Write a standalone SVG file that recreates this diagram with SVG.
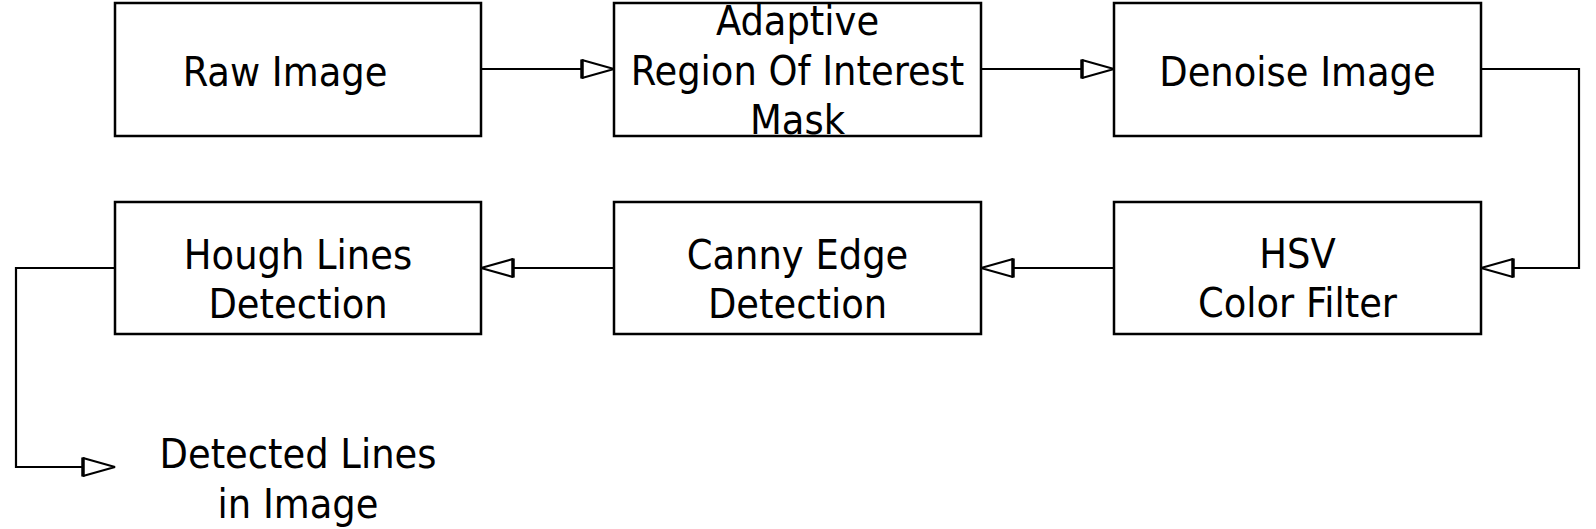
<svg xmlns="http://www.w3.org/2000/svg" width="1596" height="529" viewBox="0 0 1596 529">
<style>
.box{fill:#fff;stroke:#000;stroke-width:2.5}
.lbl{font-family:"DejaVu Sans Condensed","DejaVu Sans",sans-serif;font-stretch:condensed;font-size:41px;fill:#000;text-anchor:middle}
.con{fill:none;stroke:#000;stroke-width:2.2;marker-end:url(#ah)}
</style>
<defs>
<marker id="ah" viewBox="0 0 36 22" refX="34" refY="11" markerWidth="36" markerHeight="22" markerUnits="userSpaceOnUse" orient="auto">
<path d="M2,2 L34,11 L2,20 Z" fill="#fff" stroke="#000" stroke-width="2" stroke-linejoin="bevel"/>
<path d="M2,1.5 V20.5" stroke="#000" stroke-width="3.5"/>
</marker>
</defs>
<rect width="1596" height="529" fill="#fff"/>
<g id="connectors">
<path class="con" d="M481,69 H614"/>
<path class="con" d="M981,69 H1114"/>
<path class="con" d="M1481,69 H1579 V268 H1481"/>
<path class="con" d="M1114,268 H981"/>
<path class="con" d="M614,268 H481"/>
<path class="con" d="M115,268 H16 V467 H115"/>
</g>
<g id="raw-image">
<rect class="box" x="115" y="3" width="366" height="133"/>
<text class="lbl" x="285" y="86">Raw Image</text>
</g>
<g id="adaptive-roi">
<rect class="box" x="614" y="3" width="367" height="133"/>
<text class="lbl" x="797.5" y="35">Adaptive</text>
<text class="lbl" x="797.5" y="85">Region Of Interest</text>
<text class="lbl" x="797.5" y="134">Mask</text>
</g>
<g id="denoise-image">
<rect class="box" x="1114" y="3" width="367" height="133"/>
<text class="lbl" x="1297.5" y="86">Denoise Image</text>
</g>
<g id="hsv-filter">
<rect class="box" x="1114" y="202" width="367" height="132"/>
<text class="lbl" x="1297.5" y="268">HSV</text>
<text class="lbl" x="1297.5" y="317">Color Filter</text>
</g>
<g id="canny-edge">
<rect class="box" x="614" y="202" width="367" height="132"/>
<text class="lbl" x="797.5" y="269">Canny Edge</text>
<text class="lbl" x="797.5" y="318">Detection</text>
</g>
<g id="hough-lines">
<rect class="box" x="115" y="202" width="366" height="132"/>
<text class="lbl" x="298" y="269">Hough Lines</text>
<text class="lbl" x="298" y="318">Detection</text>
</g>
<g id="detected-lines">
<text class="lbl" x="298" y="468">Detected Lines</text>
<text class="lbl" x="298" y="518">in Image</text>
</g>
</svg>
